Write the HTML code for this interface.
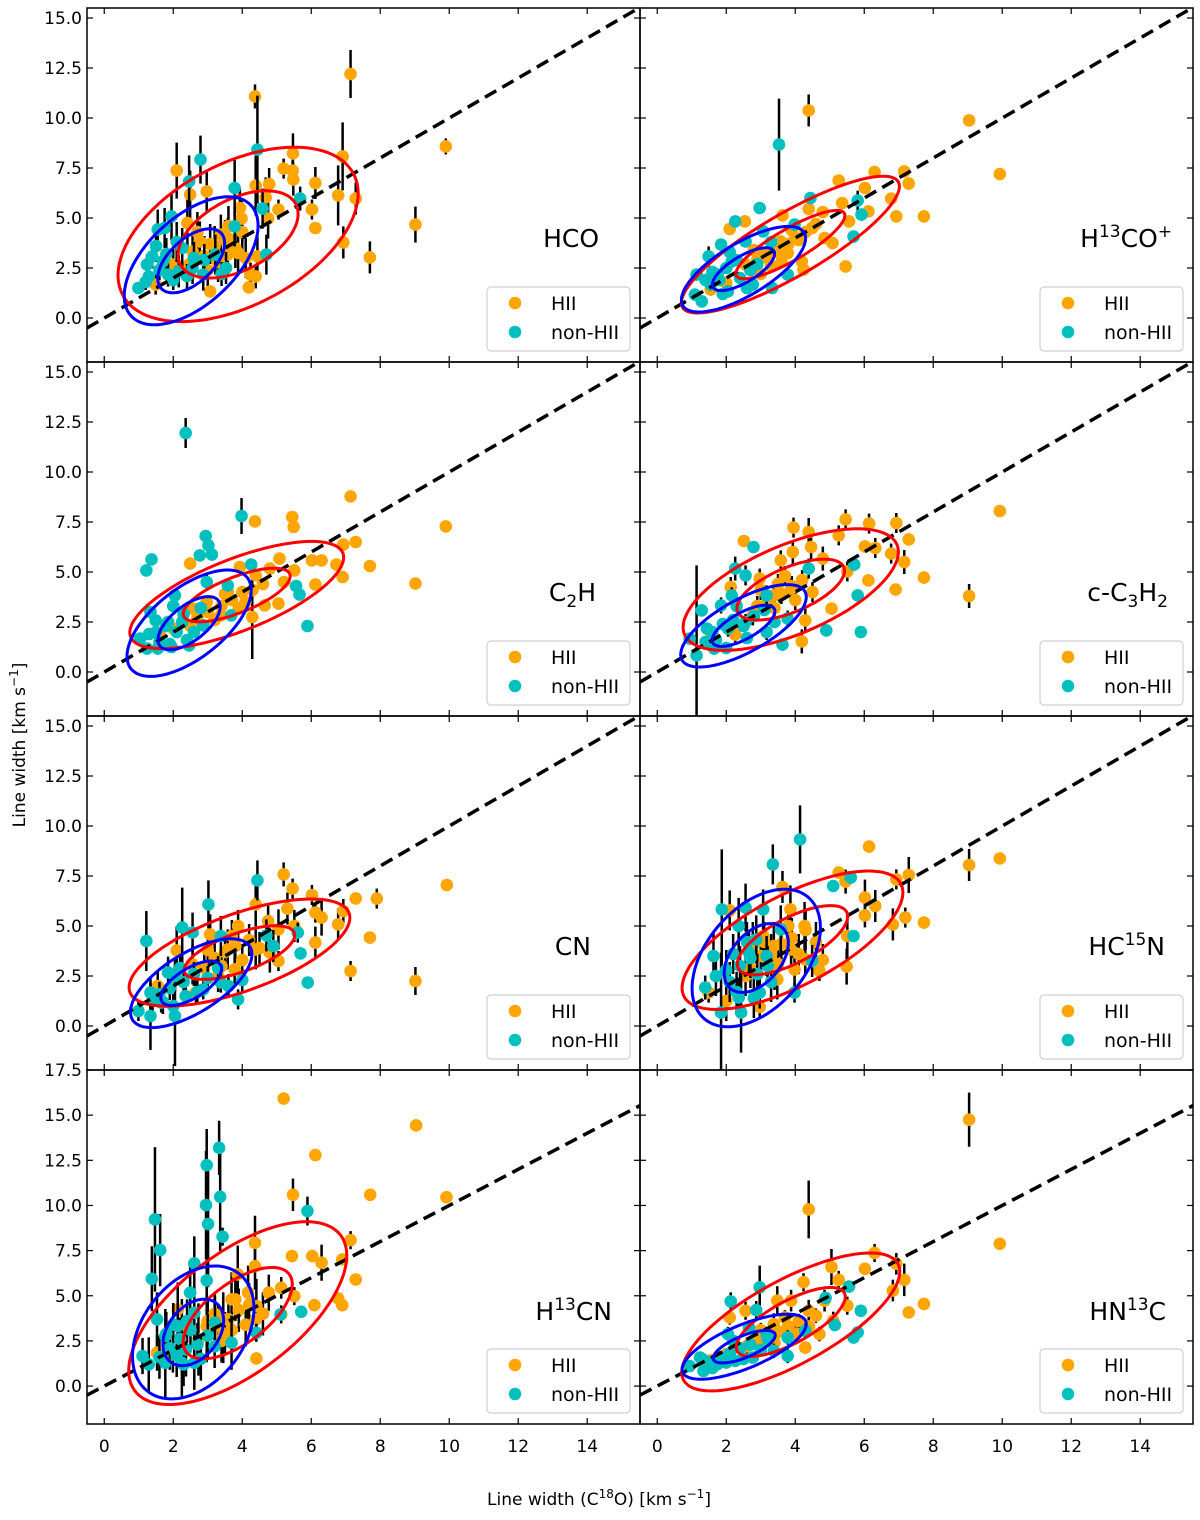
<!DOCTYPE html>
<html><head><meta charset="utf-8">
<style>
body{margin:0;background:#fff;}
#wrap{position:relative;width:1200px;height:1520px;font-family:"DejaVu Sans","Liberation Sans",sans-serif;}
svg{position:absolute;left:0;top:0;}
.plab{position:absolute;font-size:25px;color:#000;text-align:right;width:200px;line-height:1;}
.plab sup,.plab sub{font-size:17px;}
.plab sup{vertical-align:10px;line-height:0}
.plab sub{vertical-align:-6px;line-height:0}
.axl{position:absolute;font-size:17px;white-space:nowrap;}
.axl sup{font-size:12px;vertical-align:7px;line-height:0}
</style></head>
<body>
<div id="wrap">
<svg id="chart" width="1200" height="1520"></svg>
<div class="plab" style="left:399px;top:226px">HCO</div>
<div class="plab" style="left:972px;top:226px">H<sup>13</sup>CO<sup>+</sup></div>
<div class="plab" style="left:396px;top:580px">C<sub>2</sub>H</div>
<div class="plab" style="left:968px;top:580px">c-C<sub>3</sub>H<sub>2</sub></div>
<div class="plab" style="left:391px;top:934px">CN</div>
<div class="plab" style="left:965px;top:934px">HC<sup>15</sup>N</div>
<div class="plab" style="left:412px;top:1299px">H<sup>13</sup>CN</div>
<div class="plab" style="left:966px;top:1299px">HN<sup>13</sup>C</div>
<div class="axl" style="left:487px;top:1490px">Line width (C<sup>18</sup>O) [km s<sup>−1</sup>]</div>
<div class="axl" style="left:-75px;top:735px;transform:rotate(-90deg);width:190px;text-align:center">Line width [km s<sup>−1</sup>]</div>
</div>
<script>
// ---- data: [x, y, yerr] ----
const hcoHII=[[7.14,12.2,1.2],[4.37,11.08,.6],[9.9,8.58,.4],[5.47,8.23,1],[6.91,8.08,1.7],[2.1,7.37,1.4],[5.2,7.47,.5],[5.46,7.37,.5],[5.48,6.92,.8],[4.39,6.62,1.5],[4.78,6.7,.8],[6.12,6.75,.8],[2.97,6.33,1],[2.49,6.17,1.2],[6.78,6.13,1.5],[7.29,5.97,.8],[4.68,6.03,1],[5.05,5.42,.5],[6.02,5.42,.5],[3.93,5.5,1],[4.75,4.97,1],[6.12,4.5,.3],[3.98,4.97,1],[2.41,4.75,1.2],[3.58,4.0,1],[2.77,3.83,1],[3.07,3.7,1],[3.88,3.25,1],[4.44,3.08,1],[6.93,3.78,.8],[7.7,3.03,.8],[9.02,4.67,.9],[2.0,2.67,.8],[2.46,2.67,.8],[4.24,2.17,.6],[4.39,2.08,.6],[4.19,1.53,.3],[3.07,1.33,.3],[1.49,1.67,.5],[3.38,4.17,1],[2.56,3.33,1],[3.58,3.17,1],[3.2,3.6,1],[3.5,3.9,1],[3.8,3.5,1],[2.9,3.1,1],[3.3,2.8,1],[4.0,4.3,1],[2.7,4.3,1],[3.6,4.6,1],[4.1,3.0,1],[3.0,2.4,.8]];
const hcoNon=[[2.79,7.92,1.2],[4.44,8.42,2.7],[2.46,6.83,1.3],[3.78,6.5,1.4],[5.68,5.97,.6],[4.59,5.47,1],[1.75,4.5,1],[1.55,4.42,1],[1.95,5.08,1.2],[3.78,4.58,1],[1.39,3.08,.6],[1.24,2.67,.5],[1.29,2.08,.4],[.99,1.5,.3],[2.16,2.33,.8],[2.87,2.17,.8],[3.53,2.5,.8],[4.7,3.17,1],[2.26,3.5,1],[1.85,2.17,.6],[3.22,3.17,1],[2.56,2.5,.8],[1.7,2.83,.6],[1.8,3.2,.8],[2.1,3.8,1],[1.5,3.6,.8],[2.4,2.1,.6],[2.9,2.9,.8],[3.4,2.2,.6],[1.6,2.4,.5],[2.0,1.9,.5],[1.2,1.8,.4],[2.6,3.0,.8]];
const h13coHII=[[4.39,10.38,.8],[9.04,9.88,.2],[9.93,7.2,.2],[7.16,7.33,.3],[6.3,7.3,.3],[7.29,6.72,.3],[5.26,6.87,.3],[6.02,6.5,.3],[6.78,5.97,.3],[5.36,5.75,.3],[6.93,5.08,.3],[7.73,5.08,.3],[6.12,5.33,.3],[4.39,5.45,.3],[4.8,5.3,.3],[3.63,5.13,.3],[5.56,4.83,.3],[4.49,4.5,.3],[4.0,4.0,.3],[4.85,4.0,.3],[5.08,3.75,.3],[3.58,3.83,.3],[3.78,3.25,.3],[3.07,3.17,.3],[4.19,2.83,.3],[2.56,2.67,.3],[5.46,2.58,.2],[2.1,4.45,.3],[2.54,4.83,.3],[1.55,1.42,.3],[2.0,1.75,.3],[3.38,3.5,.3],[4.24,2.42,.3],[3.2,3.0,.3],[3.5,3.3,.3],[3.8,3.7,.3],[4.1,3.9,.3],[3.3,2.6,.3],[2.9,2.9,.3],[3.6,2.8,.3],[4.3,4.3,.3],[2.8,3.4,.3],[3.9,4.4,.3],[4.6,4.7,.3],[3.0,2.2,.3]];
const h13coNon=[[3.53,8.67,2.3],[2.97,5.5,.3],[4.44,6.0,.3],[5.81,5.87,.5],[5.92,5.17,.3],[5.69,4.07,.2],[2.26,4.83,.3],[1.85,3.67,.3],[1.49,3.08,.5],[1.14,2.17,.3],[1.29,.83,.3],[1.09,1.17,.3],[1.75,2.17,.3],[2.16,2.83,.3],[2.77,1.67,.3],[3.33,1.5,.3],[3.78,2.17,.3],[2.56,3.83,.3],[3.07,4.33,.3],[3.98,4.67,.3],[1.55,1.67,.3],[2.05,1.33,.3],[1.6,2.3,.3],[2.0,2.5,.3],[2.3,2.9,.3],[1.8,1.9,.3],[2.4,2.0,.3],[2.7,2.4,.3],[1.4,1.9,.3],[2.1,3.3,.3],[2.9,2.7,.3],[3.3,3.8,.3],[2.6,1.5,.3],[1.9,1.2,.3]];
const c2hHII=[[7.14,8.78,.2],[4.37,7.53,.2],[5.45,7.75,.2],[5.49,7.25,.2],[9.9,7.28,.2],[6.93,6.37,.2],[7.29,6.5,.2],[6.02,5.58,.2],[6.3,5.58,.2],[5.08,5.67,.2],[6.73,5.37,.2],[7.7,5.3,.2],[6.91,4.75,.2],[9.02,4.42,.2],[6.12,4.37,.2],[2.49,5.42,.2],[3.93,5.25,.2],[4.8,5.17,.2],[5.51,5.08,.3],[5.21,4.5,.3],[4.39,4.83,.3],[3.58,4.0,.3],[4.09,3.5,.3],[4.65,3.33,.3],[5.05,3.42,.3],[2.97,3.5,.3],[2.56,3.17,.3],[2.0,2.17,.3],[1.6,1.97,.3],[3.38,2.83,.3],[4.29,2.75,2.1],[3.0,3.0,.3],[3.4,3.3,.3],[3.7,3.6,.3],[4.0,4.0,.3],[3.2,2.6,.3],[2.7,2.7,.3],[3.5,3.9,.3],[4.3,4.1,.3],[2.5,2.3,.3],[3.9,3.2,.3],[4.6,4.4,.3]];
const c2hNon=[[2.36,11.95,.75],[3.98,7.8,.9],[2.94,6.8,.3],[3.02,6.33,.3],[2.77,5.83,.3],[3.12,5.87,.3],[1.37,5.63,.3],[1.22,5.08,.3],[4.26,5.37,.3],[5.56,4.3,.2],[5.66,3.87,.2],[5.89,2.3,.2],[2.05,3.83,.3],[2.97,4.5,.4],[3.58,4.33,.3],[1.34,3.0,.3],[1.49,2.58,.3],[1.04,1.67,.2],[1.24,1.17,.2],[1.55,1.17,.2],[1.95,1.25,.2],[2.46,1.33,.3],[1.85,2.5,.3],[2.26,2.5,.3],[2.87,2.33,.3],[3.68,2.83,.3],[1.5,2.0,.3],[1.8,2.3,.3],[2.1,2.0,.3],[1.6,1.5,.3],[2.3,2.9,.3],[2.6,2.0,.3],[1.3,1.9,.3],[2.0,3.3,.3],[2.8,3.2,.3],[2.4,1.6,.3],[1.9,1.4,.3]];
const c3h2HII=[[9.93,8.05,.2],[9.04,3.8,.6],[5.46,7.63,.5],[6.14,7.42,.5],[6.93,7.45,.5],[3.95,7.22,.5],[4.39,7.0,.7],[2.51,6.55,.3],[7.29,6.63,.3],[5.26,6.83,.5],[4.46,6.25,.6],[6.02,6.28,.3],[6.32,6.2,.5],[3.93,6.0,.6],[6.78,5.92,.5],[3.58,5.58,.5],[4.8,5.67,.6],[7.16,5.5,.6],[5.51,5.03,.5],[7.73,4.72,.3],[6.12,4.58,.3],[6.91,4.12,.3],[5.05,3.17,.3],[4.19,1.53,.6],[2.13,4.25,.5],[2.97,4.67,.5],[3.38,3.83,.5],[3.88,4.17,.5],[2.77,2.83,.5],[2.26,1.87,.4],[4.29,2.58,.6],[1.55,1.67,.4],[3.2,3.6,.5],[3.6,3.9,.5],[3.9,4.3,.5],[4.2,4.6,.5],[3.4,3.2,.5],[2.9,3.3,.5],[3.7,4.8,.5],[4.5,4.0,.5],[3.0,4.1,.5],[4.0,3.6,.5],[3.5,4.4,.5]];
const c3h2Non=[[2.79,6.25,.3],[5.71,5.37,.3],[5.81,3.83,.3],[4.9,2.08,.3],[5.9,2.0,.3],[1.29,3.08,.3],[1.14,.83,4.5],[2.26,5.17,.6],[2.56,4.83,.5],[1.85,3.33,.4],[2.16,3.83,.4],[1.44,2.17,.3],[.94,1.67,.3],[1.65,1.17,.3],[3.63,1.37,.3],[3.17,2.0,.4],[3.78,2.67,.4],[2.56,2.5,.4],[2.05,2.17,.4],[4.39,5.17,.5],[3.17,3.83,.5],[1.6,2.0,.3],[1.9,2.4,.3],[2.2,2.6,.3],[1.7,1.6,.3],[2.5,2.3,.3],[2.8,2.8,.3],[1.4,1.5,.3],[2.3,3.3,.3],[3.1,3.1,.3],[2.6,1.7,.3],[2.0,1.2,.3],[3.4,2.5,.3]];
const cnHII=[[9.93,7.05,.2],[9.02,2.25,.7],[7.9,6.37,.5],[7.29,6.38,.2],[5.2,7.58,.6],[5.46,6.87,.5],[6.02,6.55,.5],[4.39,6.08,1.1],[5.31,5.87,.8],[6.12,5.67,.5],[6.3,5.42,.9],[6.93,5.75,.6],[6.78,5.08,.8],[4.75,5.25,.8],[3.88,5.0,.8],[5.05,4.83,1],[5.51,5.0,.8],[7.7,4.42,.3],[6.12,4.17,.8],[7.14,2.75,.5],[2.1,3.78,1.2],[3.07,4.58,1],[3.58,3.83,1],[4.39,3.83,1],[4.8,3.67,1],[5.05,3.25,.5],[2.56,3.08,1],[3.78,2.83,.8],[1.55,2.0,.8],[2.66,1.67,.6],[3.2,3.4,.8],[3.5,3.7,.8],[3.8,4.0,.8],[4.2,4.3,.8],[3.4,3.0,.8],[2.9,2.9,.8],[3.7,4.5,.8],[4.5,3.9,.8],[3.0,3.8,.8],[4.0,3.3,.8],[3.3,2.5,.8]];
const cnNon=[[4.44,7.28,1],[3.02,6.08,1.2],[2.26,4.92,2],[1.22,4.25,1.5],[4.7,4.53,.8],[4.9,4.0,.8],[5.69,3.63,.3],[5.9,2.17,.3],[5.61,4.67,.5],[1.85,2.67,.8],[1.34,1.67,.8],[.99,.75,.5],[1.34,.5,1.7],[2.05,.5,2.5],[1.65,1.17,.5],[2.36,1.5,.5],[2.87,1.83,.5],[3.38,2.17,.5],[3.88,1.33,.5],[2.56,4.67,1],[3.38,4.5,1],[2.05,2.5,.8],[1.6,1.6,.6],[1.9,1.9,.6],[2.3,2.2,.6],[1.7,1.2,.6],[2.6,2.6,.6],[3.0,2.4,.6],[1.4,1.3,.6],[2.2,2.9,.6],[3.3,2.9,.6],[2.7,1.7,.6],[2.0,1.0,.6],[3.6,2.0,.6],[4.0,2.3,.6]];
const hc15nHII=[[6.14,8.97,.2],[9.93,8.38,.2],[9.04,8.05,.8],[7.29,7.55,.9],[6.93,7.33,.5],[5.26,7.67,.3],[5.46,7.22,.6],[3.63,6.95,.8],[6.02,6.42,.9],[6.32,6.0,.8],[3.86,5.83,1.2],[6.02,5.53,.6],[7.19,5.42,.5],[6.83,5.08,.8],[7.73,5.17,.3],[2.1,5.78,1],[4.27,5.0,1.2],[5.51,4.5,1.2],[3.07,4.5,1],[3.38,4.0,1.2],[3.88,3.83,1.2],[4.29,3.33,.8],[4.8,3.3,.8],[2.56,2.5,1],[3.48,2.33,1],[4.7,2.75,.5],[5.49,2.97,.9],[2.0,1.25,1],[2.97,.95,.5],[1.49,1.67,.5],[2.77,4.0,1.2],[3.98,2.83,1],[3.3,3.6,1],[3.6,4.1,1],[3.9,4.4,1],[4.3,4.8,1],[3.5,3.1,1],[3.0,3.5,1],[3.8,5.0,1],[4.6,4.2,1],[3.1,4.2,1],[4.1,3.6,1],[3.4,2.8,1],[2.7,2.9,1]];
const hc15nNon=[[4.14,9.33,1.7],[3.35,8.08,1],[5.1,7.0,.3],[5.61,7.42,.3],[1.87,5.83,3],[2.36,5.0,1.4],[2.56,5.92,1.2],[3.07,5.83,1],[2.87,4.33,1.2],[5.69,4.5,.3],[4.49,3.25,.8],[1.63,3.5,1.2],[1.7,2.5,1],[1.39,1.92,.6],[1.85,.67,3],[2.43,.67,2],[2.36,1.42,1],[2.97,1.67,.8],[3.98,1.67,.5],[2.66,3.67,1],[3.17,3.5,1],[3.58,4.83,1.2],[2.1,2.2,1],[2.4,3.0,1],[2.7,3.4,1],[2.3,1.7,1],[2.9,2.6,1],[3.2,3.0,1],[2.0,2.8,1],[2.6,4.2,1],[3.3,2.2,1],[2.8,1.4,1],[2.2,3.6,1]];
const h13cnHII=[[5.2,15.92,.2],[9.04,14.43,.2],[6.12,12.79,.2],[5.47,10.59,.9],[7.71,10.59,.2],[9.92,10.46,.2],[7.14,8.08,.5],[4.37,7.93,1.5],[5.44,7.2,.2],[6.03,7.2,.2],[6.3,6.83,1],[6.9,7.01,.3],[7.29,5.9,.2],[4.37,6.64,1.3],[3.87,6.18,1.6],[5.51,4.98,.5],[6.78,4.85,.3],[6.9,4.48,.3],[6.09,4.48,.2],[5.13,5.44,.6],[4.77,5.17,1],[4.17,5.17,1.5],[3.69,4.8,1.5],[4.41,4.43,1.5],[3.45,3.69,1.5],[2.97,3.32,2],[2.73,2.58,2],[2.25,3.32,1.5],[2.13,4.24,1.5],[1.53,1.85,1],[1.99,1.75,1],[4.41,1.53,.3],[5.13,3.97,.5],[3.45,2.77,1.5],[3.3,3.3,1.2],[3.6,3.7,1.2],[3.9,4.2,1.2],[4.2,4.5,1.2],[3.5,2.9,1.2],[3.0,3.6,1.2],[3.8,4.8,1.2],[4.6,4.0,1.2],[3.2,4.0,1.2],[4.1,3.4,1.2],[3.4,2.5,1.2],[3.7,3.1,1.2],[4.4,3.7,1.2]];
const h13cnNon=[[1.47,9.23,4],[1.62,7.53,2],[1.38,5.94,1.8],[2.97,12.23,2],[3.33,13.19,1.5],[2.95,10.02,3],[3.01,8.97,3.5],[3.36,10.48,3],[3.43,8.27,.5],[2.61,6.79,1.5],[2.97,5.85,1.2],[2.49,5.17,1.5],[5.89,9.69,.8],[5.71,4.11,.3],[5.11,3.97,.3],[4.41,2.95,.5],[1.11,1.66,1],[1.29,1.2,1.5],[1.77,1.29,2],[2.25,1.29,2],[2.61,1.29,1.5],[1.77,2.77,1.5],[2.13,3.32,1.5],[2.61,4.06,1.5],[3.21,3.51,1.5],[3.69,2.4,1.5],[1.53,3.69,1.5],[2.37,2.03,1.5],[1.9,2.1,1.2],[2.2,2.6,1.2],[2.5,3.1,1.2],[2.1,1.7,1.2],[2.7,2.3,1.2],[3.0,2.8,1.2],[1.8,2.9,1.2],[2.4,3.6,1.2],[3.2,2.2,1.2],[2.8,1.5,1.2],[2.0,3.4,1.2],[1.6,1.6,1.2],[2.3,1.2,1.2]];
const hn13cHII=[[9.04,14.75,1.5],[4.39,9.78,1.6],[9.93,7.88,.2],[6.3,7.37,.5],[5.05,6.59,1],[6.02,6.49,.3],[6.93,6.77,.6],[7.16,5.88,.9],[6.83,5.29,.6],[5.26,5.88,.5],[4.24,5.75,.5],[7.29,4.08,.2],[7.73,4.55,.2],[5.51,4.45,.5],[4.85,4.73,.6],[3.88,4.73,.6],[4.39,4.17,.6],[3.48,4.73,.8],[2.1,3.8,.4],[2.56,4.17,.5],[3.78,3.25,.5],[4.7,2.88,.4],[4.29,2.13,.3],[3.07,2.5,.5],[2.66,2.32,.4],[2.0,1.76,.3],[1.55,1.43,.3],[5.1,3.62,.5],[3.38,3.43,.6],[3.2,2.7,.4],[3.5,3.0,.4],[3.8,3.3,.4],[4.1,3.6,.4],[3.4,2.4,.4],[2.9,2.6,.4],[3.7,3.8,.4],[4.4,3.3,.4],[3.0,3.1,.4],[4.0,2.9,.4],[2.6,2.2,.4],[4.6,3.9,.4]];
const hn13cNon=[[2.97,5.47,1.2],[2.13,4.69,.5],[2.87,4.21,.5],[5.56,5.51,.3],[4.88,4.88,.3],[5.9,4.17,.3],[5.15,3.38,.3],[5.69,2.69,.3],[5.81,2.97,.3],[1.24,1.58,.3],[.94,1.11,.3],[1.34,.83,.3],[1.75,1.21,.3],[2.26,1.39,.3],[2.77,1.58,.3],[3.38,1.95,.4],[3.78,1.67,.4],[2.05,2.88,.4],[2.66,3.25,.4],[3.17,2.88,.4],[3.78,2.69,.4],[4.29,3.06,.4],[1.5,1.3,.3],[1.8,1.6,.3],[2.1,1.8,.3],[1.6,1.0,.3],[2.4,2.1,.3],[2.7,2.3,.3],[1.3,1.5,.3],[2.2,2.5,.3],[3.0,2.0,.3],[2.5,1.5,.3],[2.0,1.3,.3],[3.2,2.6,.3]];
// ---- 1-sigma ellipse params [cx, cy, hx, hy, rho]; 2-sigma drawn at double size ----
const hcoRed=[3.88,4.18,1.74,2.18,.47], hcoBlue=[2.52,2.86,.97,1.6,.55];
const h13coRed=[3.86,3.67,1.58,1.71,.85], h13coBlue=[2.5,2.44,.9,1.07,.72];
const c2hRed=[3.84,3.85,1.55,1.34,.7], c2hBlue=[2.46,2.44,.9,1.33,.62];
const c3h2Red=[3.87,4.12,1.56,1.52,.62], c3h2Blue=[2.5,2.31,.91,1.03,.7];
const cnRed=[3.92,3.67,1.6,1.34,.65], cnBlue=[2.52,2.14,.88,1.11,.65];
const hc15nRed=[3.92,4.29,1.6,1.73,.69], hc15nBlue=[2.87,3.4,.93,1.72,.44];
const h13cnRed=[3.87,4.04,1.58,2.53,.63], h13cnBlue=[2.58,2.97,.88,1.84,.36];
const hn13cRed=[3.87,3.55,1.58,1.91,.73], hn13cBlue=[2.52,2.18,.9,.9,.7];
const xTicks=[0,2,4,6,8,10,12,14];
const yTicksTop=["0.0","2.5","5.0","7.5","10.0","12.5","15.0"];
const yTicksBottom=["0.0","2.5","5.0","7.5","10.0","12.5","15.0","17.5"];

const panels=[
 {key:'hco',hii:hcoHII,non:hcoNon,red:hcoRed,blue:hcoBlue,col:0,row:0},
 {key:'h13co',hii:h13coHII,non:h13coNon,red:h13coRed,blue:h13coBlue,col:1,row:0},
 {key:'c2h',hii:c2hHII,non:c2hNon,red:c2hRed,blue:c2hBlue,col:0,row:1},
 {key:'c3h2',hii:c3h2HII,non:c3h2Non,red:c3h2Red,blue:c3h2Blue,col:1,row:1},
 {key:'cn',hii:cnHII,non:cnNon,red:cnRed,blue:cnBlue,col:0,row:2},
 {key:'hc15n',hii:hc15nHII,non:hc15nNon,red:hc15nRed,blue:hc15nBlue,col:1,row:2},
 {key:'h13cn',hii:h13cnHII,non:h13cnNon,red:h13cnRed,blue:h13cnBlue,col:0,row:3},
 {key:'hn13c',hii:hn13cHII,non:hn13cNon,red:hn13cRed,blue:hn13cBlue,col:1,row:3}
];
const NS='http://www.w3.org/2000/svg';
const FONT='DejaVu Sans, Liberation Sans, sans-serif';
const svg=document.getElementById('chart');
function mk(tag,attrs,parent){const e=document.createElementNS(NS,tag);for(const k in attrs)e.setAttribute(k,attrs[k]);(parent||svg).appendChild(e);return e;}
const PX0=[87,640], PY0=[8,362,716,1070], PW=553, PH=354, XMIN=-0.5, XMAX=15.53;
panels.forEach((p,i)=>{
  const left=PX0[p.col], top=PY0[p.row];
  const bottomRow=p.row===3;
  const YMIN=bottomRow?-2.1:-2.2, YMAX=bottomRow?17.5:15.5;
  const sx=x=>left+(x-XMIN)/(XMAX-XMIN)*PW;
  const sy=y=>top+(YMAX-y)/(YMAX-YMIN)*PH;
  const g=mk('g',{});
  
  
  const cp=mk('clipPath',{id:'cp'+i},g);
  mk('rect',{x:left,y:top,width:PW,height:PH},cp);
  const plot=mk('g',{'clip-path':'url(#cp'+i+')'},g);
  [[p.hii,'#ffa500','hii'],[p.non,'#00bfbf','non-hii']].forEach(([arr,col,nm])=>{
    const sg=mk('g',{},plot);
    
    
    arr.forEach(d=>{
      const e=d[2]||0.4;
      const l=mk('line',{x1:sx(d[0]),x2:sx(d[0]),y1:sy(d[1]-e),y2:sy(d[1]+e),stroke:'#000','stroke-width':2.5},sg);
      
      
    });
    arr.forEach(d=>{
      const c=mk('circle',{cx:sx(d[0]),cy:sy(d[1]),r:6.3,fill:col},sg);
      
      
    });
  });
  const dl=mk('line',{x1:sx(XMIN),y1:sy(XMIN),x2:sx(XMAX),y2:sy(XMAX),stroke:'#000','stroke-width':3.5,'stroke-dasharray':'13,7'},plot);
  
  
  [[p.red,'#ff0000','red'],[p.blue,'#0000ff','blue']].forEach(([e,col,nm])=>{
    [1,2].forEach(k=>{
      let pts=[];
      for(let j=0;j<=120;j++){const t=j/120*2*Math.PI;
        const x=e[0]+k*e[2]*Math.cos(t);
        const y=e[1]+k*e[3]*(e[4]*Math.cos(t)+Math.sqrt(1-e[4]*e[4])*Math.sin(t));
        pts.push(sx(x).toFixed(1)+','+sy(y).toFixed(1));}
      const pl=mk('polygon',{points:pts.join(' '),fill:'none',stroke:col,'stroke-width':3},plot);
      
      
    });
  });
  const fr=mk('rect',{x:left,y:top,width:PW,height:PH,fill:'none',stroke:'#000','stroke-width':1.5},g);
  
  
  xTicks.forEach(v=>{
    mk('line',{x1:sx(v),x2:sx(v),y1:top+PH,y2:top+PH-6,stroke:'#000','stroke-width':1.2},g);
    mk('line',{x1:sx(v),x2:sx(v),y1:top,y2:top+6,stroke:'#000','stroke-width':1.2},g);
    if(bottomRow){const t=mk('text',{x:sx(v),y:top+PH+28,'text-anchor':'middle','font-size':17,'font-family':FONT},g);t.textContent=v;
      
      }
  });
  const yt=bottomRow?yTicksBottom:yTicksTop;
  yt.forEach(s=>{const v=parseFloat(s);
    mk('line',{x1:left,x2:left+6,y1:sy(v),y2:sy(v),stroke:'#000','stroke-width':1.2},g);
    mk('line',{x1:left+PW,x2:left+PW-6,y1:sy(v),y2:sy(v),stroke:'#000','stroke-width':1.2},g);
    if(p.col===0){const t=mk('text',{x:left-5,y:sy(v)+6,'text-anchor':'end','font-size':17,'font-family':FONT},g);t.textContent=s;
      
      }
  });
  const lg=mk('g',{},g);
  
  
  mk('rect',{x:left+400,y:top+279,width:143,height:64,rx:4,fill:'#fff','fill-opacity':0.8,stroke:'#d0d0d0','stroke-width':1.2},lg);
  mk('circle',{cx:left+428,cy:top+295,r:6.3,fill:'#ffa500'},lg);
  mk('circle',{cx:left+428,cy:top+324,r:6.3,fill:'#00bfbf'},lg);
  const t1=mk('text',{x:left+464,y:top+302,'font-size':19,'font-family':FONT},lg);t1.textContent='HII';
  
  
  const t2=mk('text',{x:left+464,y:top+331,'font-size':19,'font-family':FONT},lg);t2.textContent='non-HII';
  
  
});
</script>
</body></html>
